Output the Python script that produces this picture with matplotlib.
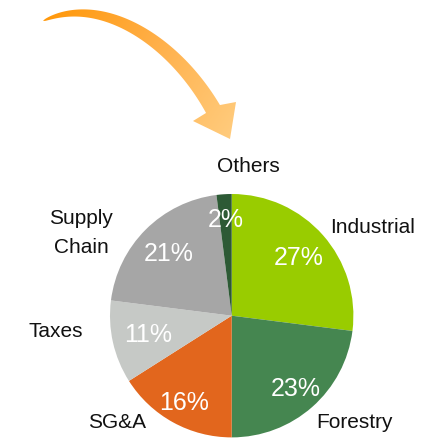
import numpy as np
import matplotlib
matplotlib.use("Agg")
import matplotlib.pyplot as plt
from matplotlib.path import Path
from matplotlib.patches import PathPatch
from matplotlib.colors import LinearSegmentedColormap

# ---- data ----
categories = ["Industrial", "Forestry", "SG&A", "Taxes", "Supply\nChain", "Others"]
shares = [27, 23, 16, 11, 21, 2]
colors = ["#99CC00", "#458650", "#E2661D", "#C6C9C6", "#A6A6A6", "#2D5A35"]

# ---- layout ----
W, H = 432, 439
cx, cy, R = 231.7, 316.7, 121.7          # pie centre / radius in pixels (y down)
pct_r = [0.73, 0.79, 0.81, 0.70, 0.73, 0.80]
label_px = [(373, 226), (355, 421), (117, 421), (56, 330), (81, 217), (248, 165)]
line_gap = 29
FONT = "Liberation Sans"

fig = plt.figure(figsize=(W / 100, H / 100), dpi=100)
fig.patch.set_facecolor("white")

ax = fig.add_axes([(cx - R) / W, (H - cy - R) / H, 2 * R / W, 2 * R / H])
wedges, _ = ax.pie(shares, colors=colors, startangle=90, counterclock=False,
                   radius=1.0, wedgeprops=dict(linewidth=0))
ax.set_xlim(-1, 1)
ax.set_ylim(-1, 1)
ax.set_aspect("auto")
ax.axis("off")

# percentage labels
for w, v, r in zip(wedges, shares, pct_r):
    th = np.deg2rad((w.theta1 + w.theta2) / 2)
    ax.text(r * np.cos(th), r * np.sin(th), f"{v}%", color="white",
            fontsize=18, family=FONT, ha="center", va="center")

# overlay axes in pixel coordinates
ov = fig.add_axes([0, 0, 1, 1], zorder=5)
ov.set_xlim(0, W)
ov.set_ylim(H, 0)
ov.axis("off")
ov.patch.set_alpha(0)

# category labels (cap-centre y given; shift to baseline)
em = 15 * 100 / 72
for name, (x, y) in zip(categories, label_px):
    for k, line in enumerate(name.split("\n")):
        ov.text(x, y + k * line_gap + 0.358 * em, line, fontsize=15, family=FONT,
                color="#111111", ha="center", va="baseline")

# ---- curved arrow with gradient ----
P0 = np.array([43.0, 22.0]); P1 = np.array([100.0, -5.0])
P2 = np.array([173.0, 40.0]); P3 = np.array([213.0, 110.0])
t = np.linspace(0, 1, 80)[:, None]
B = (1 - t) ** 3 * P0 + 3 * (1 - t) ** 2 * t * P1 + 3 * (1 - t) * t ** 2 * P2 + t ** 3 * P3
dB = 3 * (1 - t) ** 2 * (P1 - P0) + 6 * (1 - t) * t * (P2 - P1) + 3 * t ** 2 * (P3 - P2)
dB = dB / np.linalg.norm(dB, axis=1, keepdims=True)
n = np.column_stack([dB[:, 1], -dB[:, 0]])
wdt = 16 * np.sqrt(t[:, 0])
outer = B + n * (wdt[:, None] / 2)
inner = B - n * (wdt[:, None] / 2)
head = np.array([[236, 103], [230, 140], [193, 122]])
poly = np.vstack([outer, head, inner[::-1], outer[:1]])
codes = [Path.MOVETO] + [Path.LINETO] * (len(poly) - 2) + [Path.CLOSEPOLY]
patch = PathPatch(Path(poly, codes), facecolor="none", edgecolor="none")
ov.add_patch(patch)

xx, yy = np.meshgrid(np.linspace(0, W, 432), np.linspace(0, H, 439))
d = np.array([187.0, 118.0]); d /= np.linalg.norm(d)
s = ((xx - 43) * d[0] + (yy - 20) * d[1]) / 220.0
s = np.clip(s, 0, 1)
cmap = LinearSegmentedColormap.from_list("arr", ["#FF980A", "#FFB04A", "#FFCB7C"])
im = ov.imshow(s, cmap=cmap, extent=[0, W, H, 0], vmin=0, vmax=1,
               interpolation="bilinear", zorder=2)
im.set_clip_path(patch)
ov.set_xlim(0, W)
ov.set_ylim(H, 0)

fig.savefig("out.png", dpi=100, facecolor="white")
